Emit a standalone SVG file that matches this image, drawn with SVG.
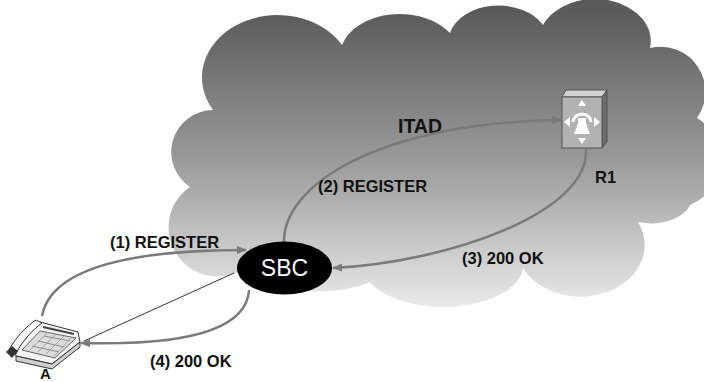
<svg xmlns="http://www.w3.org/2000/svg" width="704" height="382" viewBox="0 0 704 382">
  <defs>
    <linearGradient id="cloudFill" gradientUnits="userSpaceOnUse" x1="0" y1="10" x2="0" y2="310">
      <stop offset="0" stop-color="#5a5a5a"/>
      <stop offset="0.5" stop-color="#9a9a9a"/>
      <stop offset="1" stop-color="#ececec"/>
    </linearGradient>
    <marker id="arrow" viewBox="0 0 10 10" refX="9" refY="5" markerWidth="10" markerHeight="10" markerUnits="userSpaceOnUse" orient="auto">
      <path d="M0,1 L10,5 L0,9 Z" fill="#7a7a7a"/>
    </marker>
    <style>
      .lbl { font-family: "Liberation Sans", Arial, sans-serif; font-weight: bold; fill: #111; font-size: 16.5px; }
      .flow { fill: none; stroke: #7a7a7a; stroke-width: 2.5; }
    </style>
  </defs>

  <rect width="704" height="382" fill="#ffffff"/>

  <!-- ITAD cloud -->
  <g id="itad-cloud">
    <path d="M 190 187
             A 42 42 0 0 1 213 110
             A 75 62 0 0 1 342 45
             A 60 42 0 0 1 450 33
             A 50 36 0 0 1 543 25
             A 56 42 0 0 1 650 48
             A 45 45 0 0 1 697 118
             A 55 50 0 0 1 690 205
             A 40 25 0 0 1 638 222
             A 62 50 0 0 1 523 268
             A 80 42 0 0 1 370 282
             A 70 25 0 0 1 245 268
             A 45 45 0 0 1 190 187 Z" fill="url(#cloudFill)"/>
    <text class="lbl" x="420" y="133" text-anchor="middle" style="font-size:19.5px">ITAD</text>
  </g>

  <!-- connectors -->
  <g id="connectors">
    <line x1="234" y1="273" x2="84" y2="341" stroke="#333" stroke-width="1"/>
    <path class="flow" d="M 42 316 C 52 262, 150 250, 246 250" marker-end="url(#arrow)"/>
    <path class="flow" d="M 284 243 C 282 185, 380 122, 561 120" marker-end="url(#arrow)"/>
    <path class="flow" d="M 586 149 C 590 212, 450 262, 333 268" marker-end="url(#arrow)"/>
    <path class="flow" d="M 249 290 C 246 340, 150 345, 81 343" marker-end="url(#arrow)"/>
  </g>

  <!-- SBC node -->
  <g id="sbc">
    <ellipse cx="284.5" cy="268" rx="47.5" ry="26.5" fill="#000"/>
    <text x="284.5" y="276" text-anchor="middle" font-family="Liberation Sans, Arial, sans-serif" font-size="23" fill="#fff">SBC</text>
  </g>

  <!-- R1 node -->
  <g id="r1">
    <path d="M 562 97 L 566 90 L 607 90 L 602 97 Z" fill="#d2d2d2" stroke="#555" stroke-width="1"/>
    <path d="M 602 97 L 607 90 L 607 142 L 602 148 Z" fill="#6c6c6c" stroke="#555" stroke-width="1"/>
    <rect x="562" y="97" width="40" height="51" fill="#b2b2b2" stroke="#555" stroke-width="1"/>
    <path d="M 582 100 L 586 106 L 578 106 Z" fill="#fff"/>
    <path d="M 582 144 L 586 138 L 578 138 Z" fill="#fff"/>
    <path d="M 564 122 L 570 117 L 570 127 Z" fill="#fff"/>
    <path d="M 600 122 L 594 117 L 594 127 Z" fill="#fff"/>
    <path d="M 573 122 A 9 8 0 0 1 591 122" fill="none" stroke="#fff" stroke-width="3"/>
    <path d="M 578 118 L 586 118 L 586 123 L 590 134 L 574 134 L 578 123 Z" fill="#fff"/>
    <text class="lbl" x="595" y="183">R1</text>
  </g>

  <!-- phone A -->
  <g id="phone-a">
    <path d="M 14 352 L 40 322 L 78 332 L 80 342 L 52 364 L 16 356 Z" fill="#f4f4f4" stroke="#333" stroke-width="1"/>
    <path d="M 40 331 L 76 338 L 55 358 L 22 350 Z" fill="#dcdcdc" stroke="#444" stroke-width="0.8"/>
    <path d="M 43 327 L 74 334" stroke="#444" stroke-width="2"/>
    <path d="M 44 336 L 70 341 M 38 341 L 64 347 M 32 346 L 59 352" stroke="#777" stroke-width="0.8"/>
    <path d="M 48 332 L 30 350 M 56 334 L 38 352 M 64 336 L 46 354 M 71 338 L 54 356" stroke="#999" stroke-width="0.8"/>
    <path d="M 16 356 L 52 364 L 80 342 L 80 347 L 52 369 L 16 361 Z" fill="#cfcfcf" stroke="#333" stroke-width="1"/>
    <path d="M 9 350 C 14 340, 26 326, 36 320 L 42 323 C 32 330, 20 344, 16 354 Z" fill="#fff" stroke="#333" stroke-width="1"/>
    <path d="M 6 352 L 12 346 L 18 351 L 12 358 Z" fill="#333"/>
    <text class="lbl" x="40" y="379" style="font-size:15px">A</text>
  </g>

  <!-- message labels -->
  <g id="labels">
    <text class="lbl" x="110" y="248">(1) REGISTER</text>
    <text class="lbl" x="318" y="192">(2) REGISTER</text>
    <text class="lbl" x="462" y="264">(3) 200 OK</text>
    <text class="lbl" x="150" y="367">(4) 200 OK</text>
  </g>
</svg>
